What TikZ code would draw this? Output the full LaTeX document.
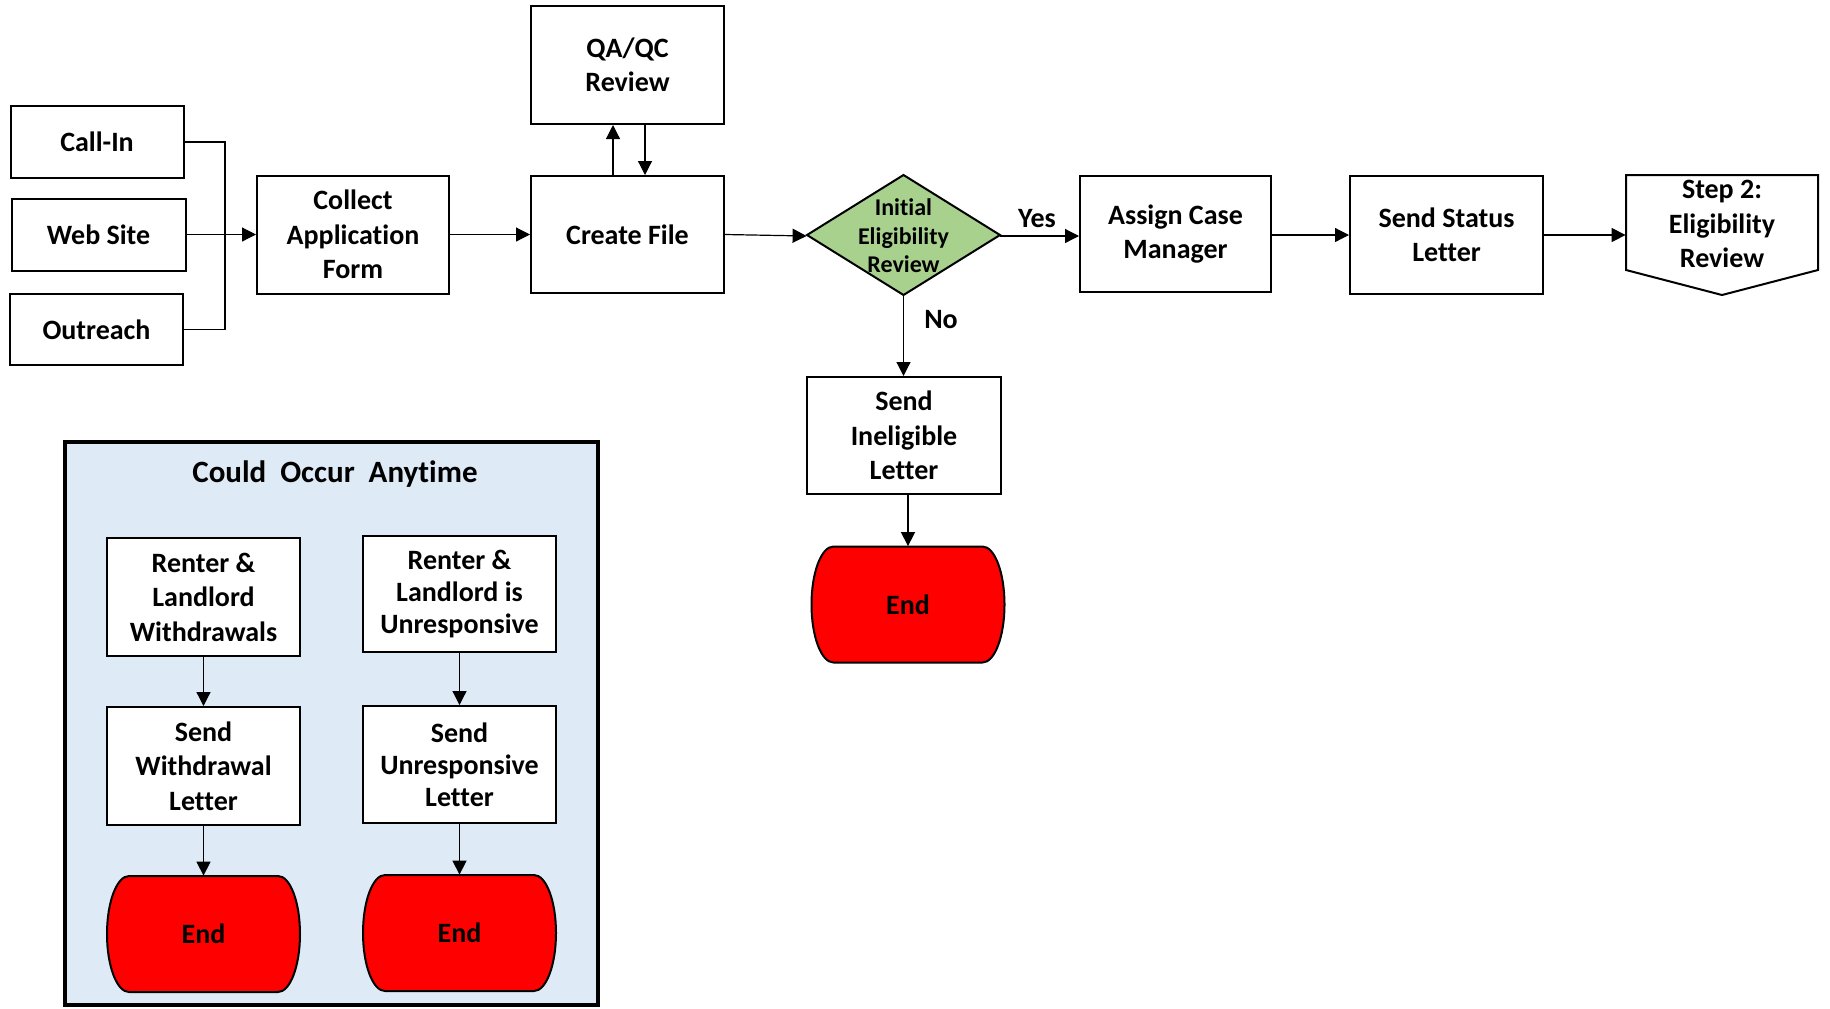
\documentclass[tikz,border=0pt]{standalone}
\usepackage{fontspec}
\setmainfont{Carlito}[Ligatures=NoCommon]
\usetikzlibrary{arrows.meta,calc}
\definecolor{dgreen}{HTML}{A9D18E}
\definecolor{lblue}{HTML}{DEEAF6}
\definecolor{endred}{HTML}{FF0000}
\newcommand\termshape[2]{%
  \draw[line width=1pt, fill=endred] (#1-74.5,#2-58) -- (#1+74.5,#2-58)
    arc[start angle=90,end angle=-90,x radius=11pt,y radius=29pt]
    -- (#1-74.5,#2+58)
    arc[start angle=270,end angle=90,x radius=11pt,y radius=29pt] -- cycle;}
\begin{document}
\begin{tikzpicture}[x=0.5pt,y=-0.5pt,
  every node/.style={font=\bfseries\fontsize{14}{17.25}\selectfont, align=center},
  box/.style={draw, line width=1pt, fill=white, inner sep=2pt},
  tightbox/.style={box, font=\bfseries\fontsize{14}{16}\selectfont},
  arr/.style={line width=0.6pt, -{Triangle[length=7pt,width=7pt]}},
  conn/.style={line width=0.6pt},
  endnode/.style={inner sep=0pt, minimum width=96.5pt, minimum height=58pt},
  lbl/.style={font=\bfseries\fontsize{14}{17}\selectfont}
]
\useasboundingbox (0,0) rectangle (1830,1008);

% container
\draw[line width=1.6pt, fill=lblue] (65,442) rectangle (598,1005);
\node[font=\bfseries\fontsize{15.5}{18}\selectfont] (title) at (335,474.5) {Could\hspace{0.45em}Occur\hspace{0.45em}Anytime};

% top row
\node[box, minimum width=86.5pt, minimum height=36pt] (callin) at (97,142) {Call-In};
\node[box, minimum width=87pt, minimum height=36pt] (web) at (98.5,234.5) {Web Site};
\node[box, minimum width=86.5pt, minimum height=35.5pt] (outreach) at (96.5,329.5) {Outreach};
\node[box, minimum width=96pt, minimum height=59pt] (collect) at (353,234.5) {Collect\\Application\\Form};
\node[box, minimum width=96.5pt, minimum height=59pt] (qaqc) at (627.5,65) {QA/QC\\Review};
\node[box, minimum width=96.5pt, minimum height=58.5pt] (create) at (627.5,234.5) {Create File};

\draw[line width=1pt, fill=dgreen] (807,235) -- (903.5,175) -- (1000,235) -- (903.5,295) -- cycle;
\node[minimum width=96.5pt, minimum height=60pt, inner sep=0pt,
      font=\bfseries\fontsize{12}{14.2}\selectfont] (dec) at (903.5,236) {Initial\\Eligibility\\Review};

\node[box, minimum width=95.5pt, minimum height=58pt] (assign) at (1175.5,234) {Assign Case\\Manager};
\node[box, minimum width=96.5pt, minimum height=59pt] (status) at (1446.5,235) {Send Status\\Letter};

\draw[line width=1pt, fill=white] (1626,175) -- (1818,175) -- (1818,270) -- (1722,295) -- (1626,270) -- cycle;
\node[minimum width=96pt, inner sep=0pt] (step) at (1722,224) {Step 2:\\Eligibility\\Review};

\node[box, minimum width=97pt, minimum height=58.5pt] (inel) at (904,435.5) {Send\\Ineligible\\Letter};
\termshape{908}{604.5}
\node[endnode] (end1) at (908,604.5) {End};

% container contents
\node[box, minimum width=96.5pt, minimum height=59pt] (renterW) at (203.5,597) {Renter \&\\Landlord\\Withdrawals};
\node[tightbox, minimum width=96.5pt, minimum height=58pt] (renterU) at (459.5,594) {Renter \&\\Landlord is\\Unresponsive};
\node[box, minimum width=96.5pt, minimum height=59pt] (sendW) at (203.5,766) {Send\\Withdrawal\\Letter};
\node[tightbox, minimum width=96.5pt, minimum height=58.5pt] (sendU) at (459.5,764.5) {Send\\Unresponsive\\Letter};
\termshape{203.5}{934}
\node[endnode] (endL) at (203.5,934) {End};
\termshape{459.5}{933}
\node[endnode] (endR) at (459.5,933) {End};

% connectors
\draw[conn] (callin.east) -| (225,235);
\draw[conn] (outreach.east) -| (225,235);
\draw[arr] (web.east) -- (collect.west);
\draw[arr] (collect.east) -- (create.west);
\draw[arr] ([xshift=-7.25pt]create.north) -- ([xshift=-7.25pt]qaqc.south);
\draw[arr] ([xshift=8.75pt]qaqc.south) -- ([xshift=8.75pt]create.north);
\draw[arr] (create.east) -- (dec.west);
\draw[arr] (dec.east) -- (assign.west |- dec.east);
\node[lbl] (yes) at (1037,219) {Yes};
\draw[arr] (dec.south) -- (dec.south |- inel.north);
\node[lbl] (no) at (941,320) {No};
\draw[arr] (assign.east |- status.west) -- (status.west);
\draw[arr] (status.east) -- (status.east -| step.west);
\draw[arr] (inel.south -| end1.north) -- (end1.north);

\draw[arr] (renterW.south) -- (sendW.north);
\draw[arr] (sendW.south) -- (endL.north);
\draw[arr] (renterU.south) -- (sendU.north);
\draw[arr] (sendU.south) -- (endR.north);
\end{tikzpicture}
\end{document}
